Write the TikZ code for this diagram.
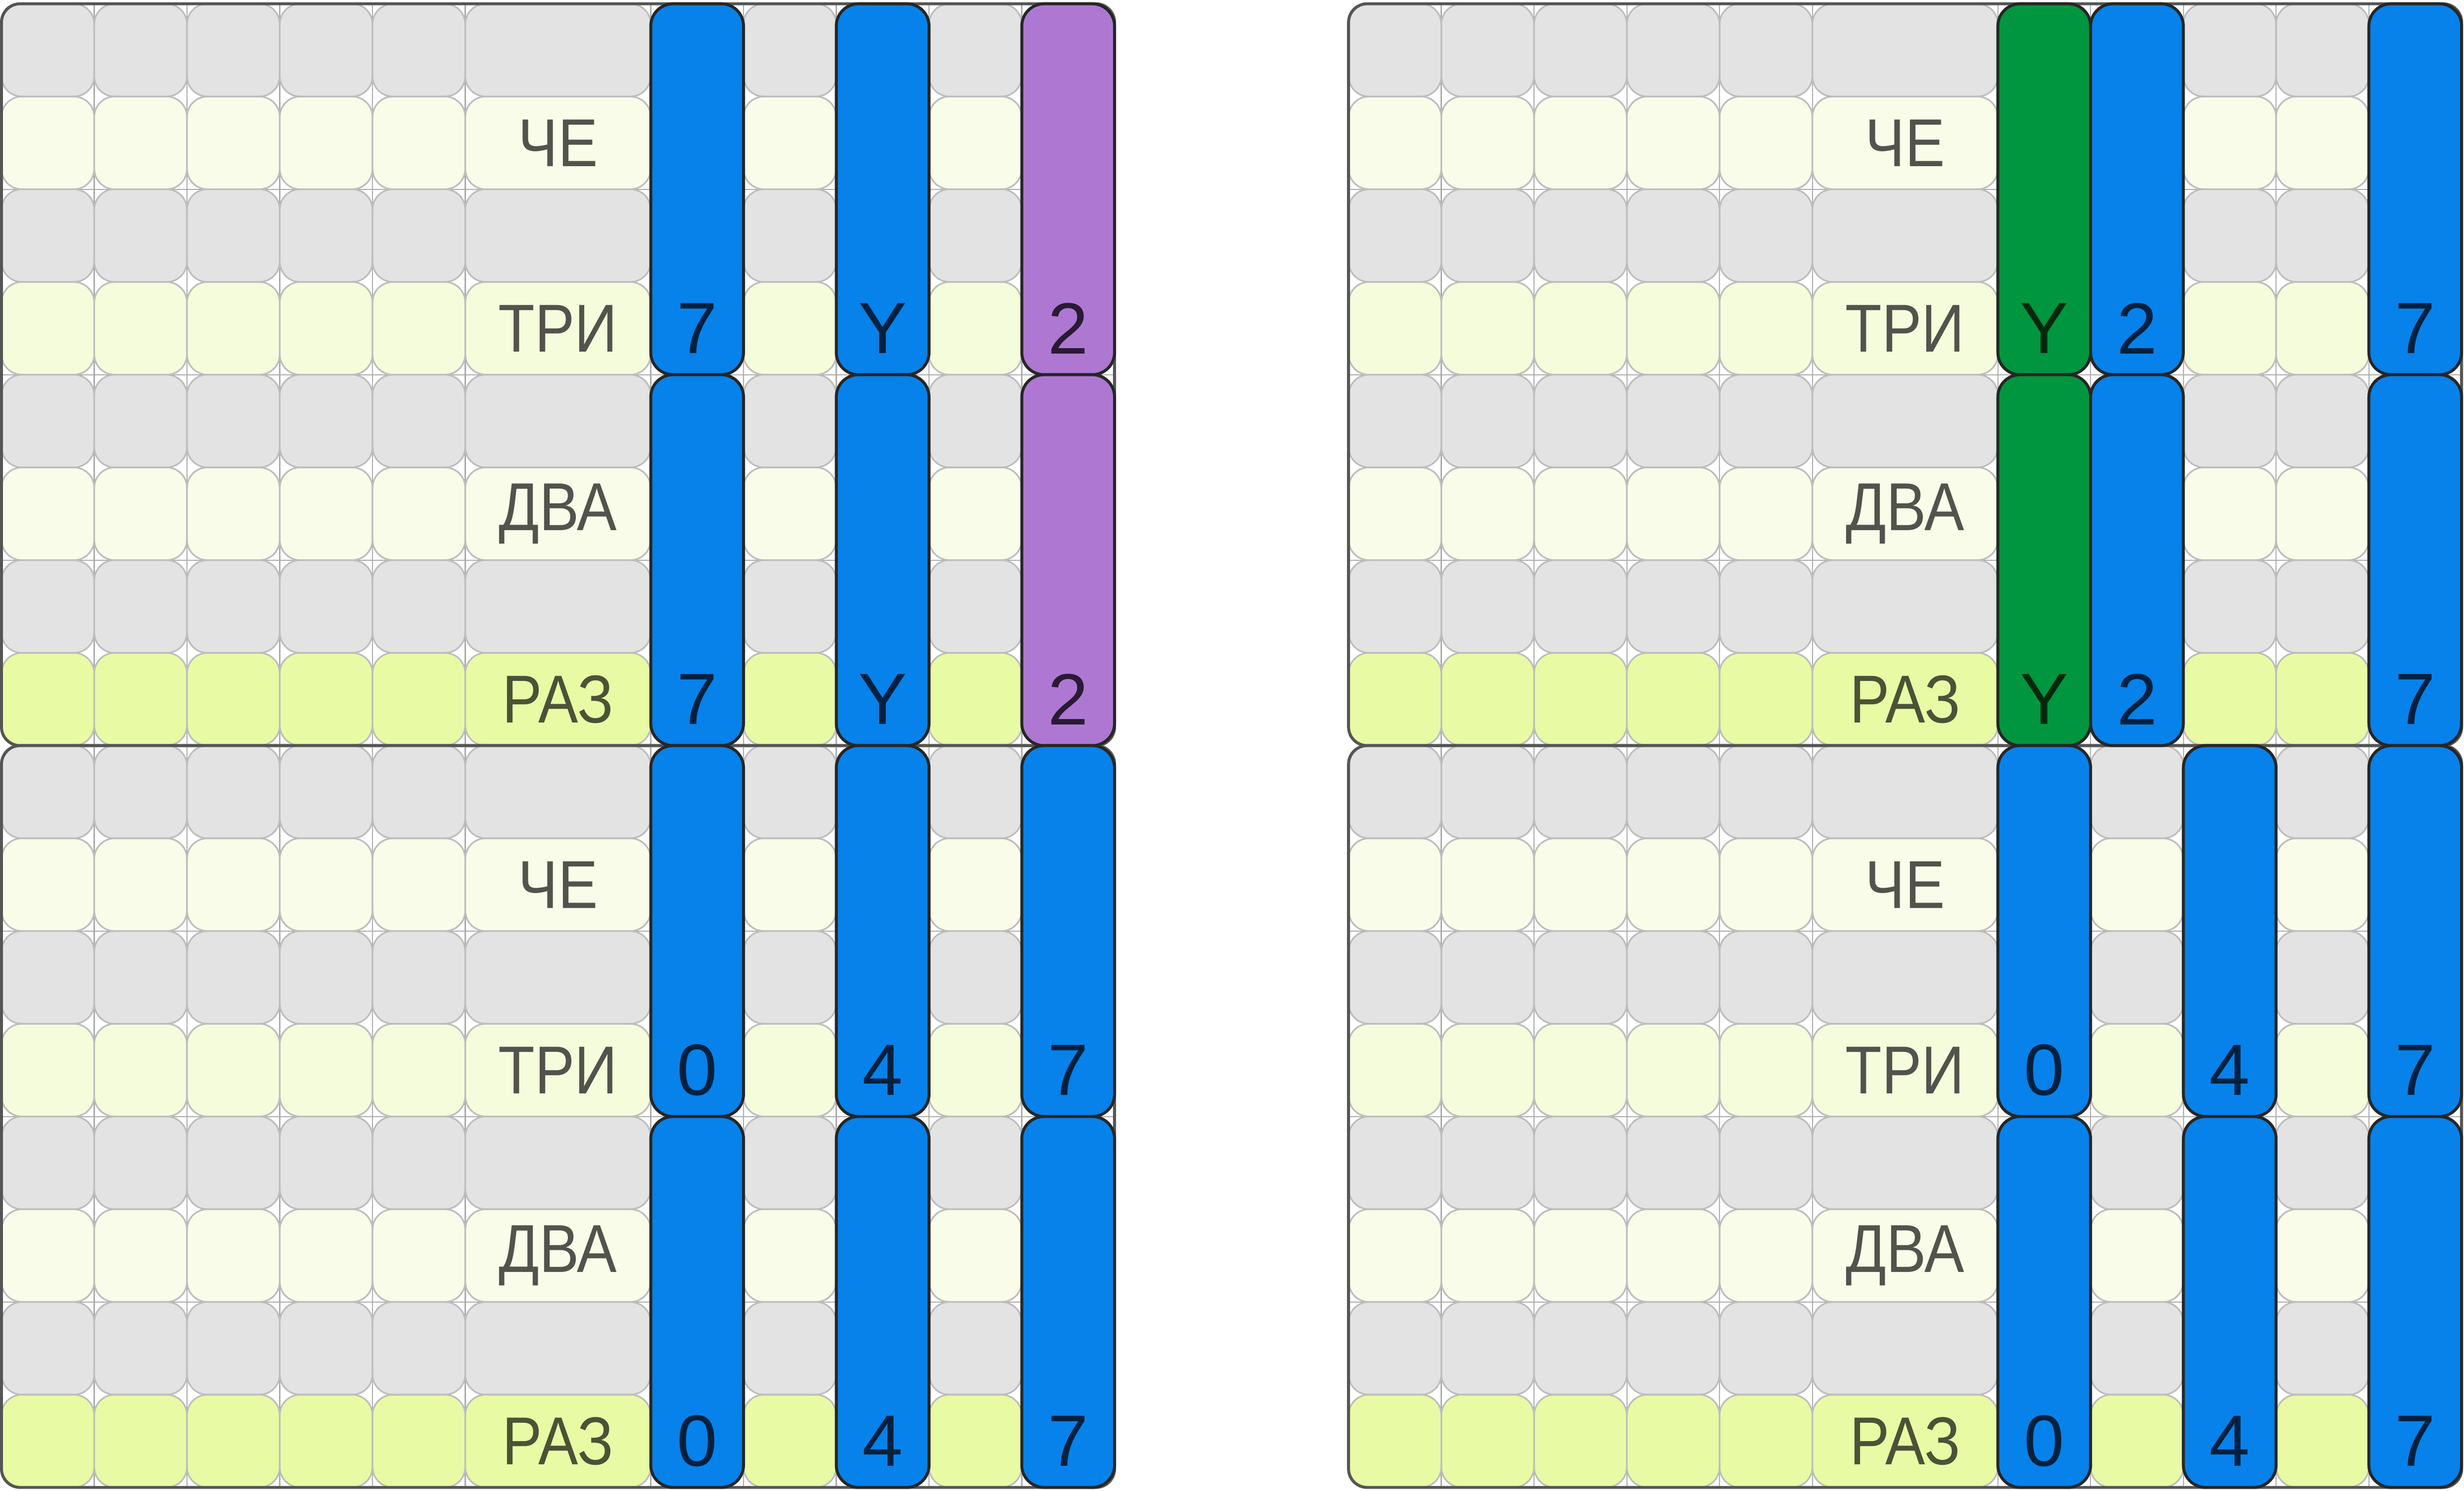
\documentclass[tikz,border=0pt]{standalone}
\usepackage{fontspec}
\setmainfont{Liberation Sans}
\newfontfamily\lblfont[FakeStretch=0.88]{Liberation Sans}

\definecolor{cellgray}{HTML}{E3E3E3}
\definecolor{paleyel}{HTML}{F8FCE8}
\definecolor{triyel}{HTML}{F4FCDC}
\definecolor{razyel}{HTML}{E8FAA4}
\definecolor{celledge}{HTML}{BDBDBD}
\definecolor{gridgray}{HTML}{ABABAB}
\definecolor{frameedge}{HTML}{555555}
\definecolor{baredge}{HTML}{262626}
\definecolor{barblue}{HTML}{0682EA}
\definecolor{barpurple}{HTML}{AE78D2}
\definecolor{bargreen}{HTML}{00963F}
\definecolor{numblue}{HTML}{00213F}
\definecolor{numpurple}{HTML}{2A1A35}
\definecolor{numgreen}{HTML}{00290F}
\definecolor{lbltext}{HTML}{52534C}
\definecolor{raztext}{HTML}{4B5237}

\tikzset{
  cellbox/.style={draw=celledge, line width=0.5pt, rounded corners=0.22cm},
  barbox/.style={draw=baredge, line width=0.9pt, rounded corners=0.24cm},
  panelframe/.style={draw=frameedge, line width=0.9pt, rounded corners=0.2cm},
  gridline/.style={draw=gridgray, line width=0.35pt},
  lbl/.style={font=\lblfont\fontsize{20.8}{24}\selectfont, text=lbltext},
  num/.style={font=\fontsize{22.3}{26}\selectfont}
}

\begin{document}
\begin{tikzpicture}
\useasboundingbox (0,0) rectangle (26.565,16.075);

\foreach \px/\yt/\pn/\fa in {0.016/16.034/lt/8, 0.016/8.034/lb/8,
    14.539/16.034/rt/9, 14.539/8.034/rb/8} {
  \begin{scope}[shift={(\px,\yt)}, y=-1cm]
    \foreach \c in {1,...,11} \draw[gridline] (\c,0) -- (\c,8);
    \foreach \r in {2,4,6} \draw[gridline] (0,\r) -- (12,\r);
    \foreach \r/\fc in {0/cellgray,1/paleyel,2/cellgray,3/triyel,
        4/cellgray,5/paleyel,6/cellgray,7/razyel} {
      \foreach \c in {0,...,4,\fa,10} \draw[cellbox, fill=\fc] (\c,\r) rectangle ++(1,1);
      \draw[cellbox, fill=\fc] (5,\r) rectangle ++(2,1);
    }
    \draw[panelframe] (0,0) rectangle (12,8);
    \node[lbl] (\pn-che) at (6,1.5) {ЧЕ};
    \node[lbl] (\pn-tri) at (6,3.5) {ТРИ};
    \node[lbl] (\pn-dva) at (6,5.5) {ДВА};
    \node[lbl, text=raztext] (\pn-raz) at (6,7.5) {РАЗ};
  \end{scope}
}

\foreach \px/\yt/\pn/\c/\bc/\tc/\val in {
    0.016/16.034/lt/7/barblue/numblue/7, 0.016/16.034/lt/9/barblue/numblue/Y,
    0.016/16.034/lt/11/barpurple/numpurple/2,
    0.016/8.034/lb/7/barblue/numblue/0, 0.016/8.034/lb/9/barblue/numblue/4,
    0.016/8.034/lb/11/barblue/numblue/7,
    14.539/16.034/rt/7/bargreen/numgreen/Y, 14.539/16.034/rt/8/barblue/numblue/2,
    14.539/16.034/rt/11/barblue/numblue/7,
    14.539/8.034/rb/7/barblue/numblue/0, 14.539/8.034/rb/9/barblue/numblue/4,
    14.539/8.034/rb/11/barblue/numblue/7} {
  \begin{scope}[shift={(\px,\yt)}, y=-1cm]
    \foreach \s in {0,4} {
      \draw[barbox, fill=\bc] (\c,\s) rectangle ++(1,4);
      \node[num, text=\tc] (\pn-\c-\s) at (\c+0.5,\s+3.5) {\val};
    }
  \end{scope}
}

\end{tikzpicture}
\end{document}
